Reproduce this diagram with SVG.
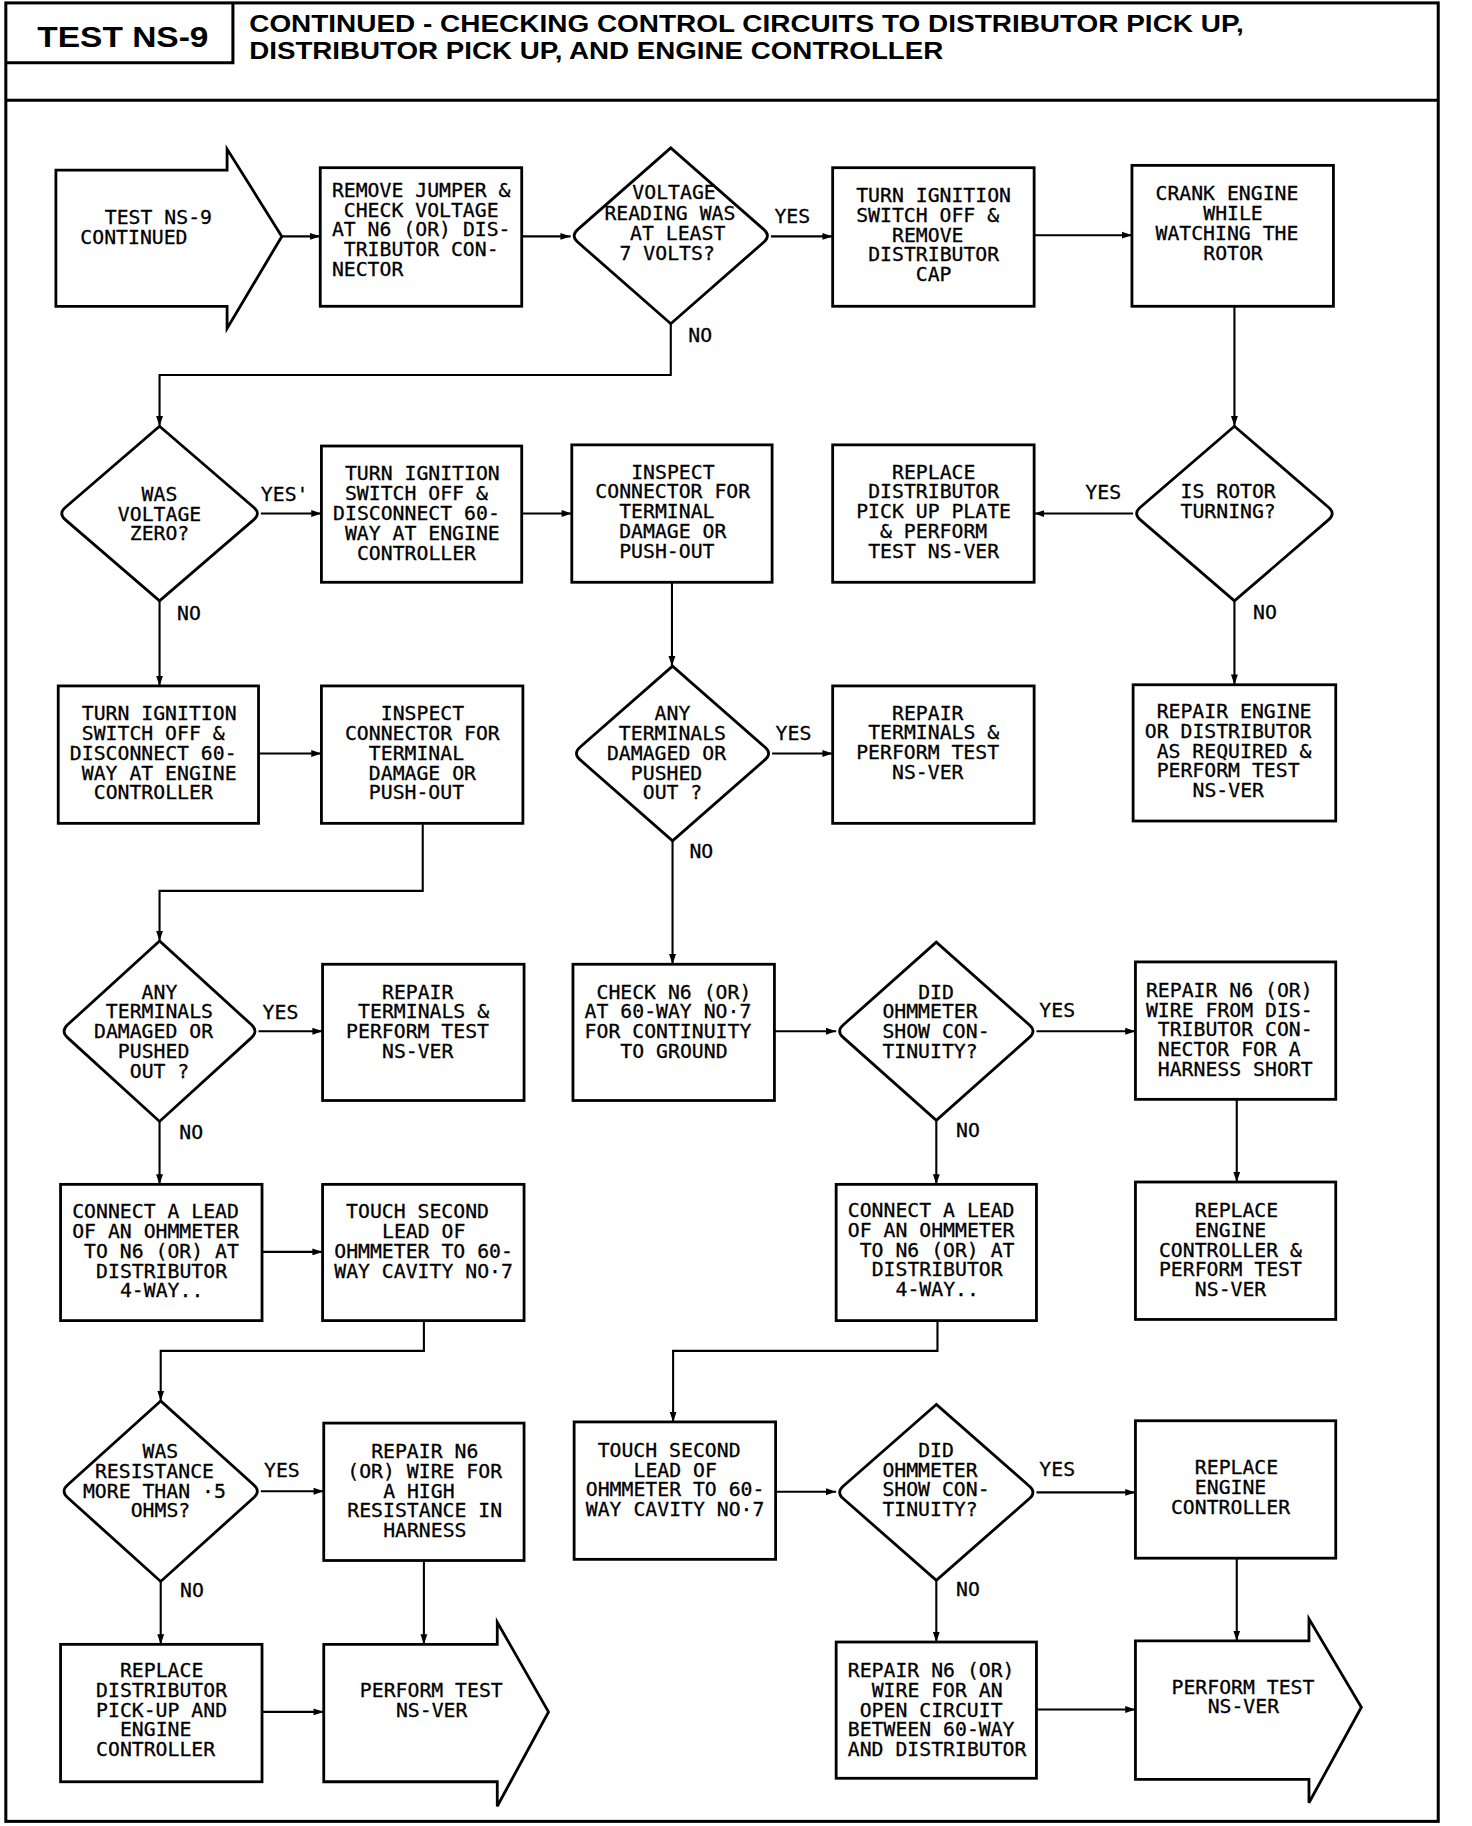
<svg xmlns="http://www.w3.org/2000/svg" width="1472" height="1826" viewBox="0 0 1472 1826">
<style>
.box{fill:#fff;stroke:#000;stroke-width:2.4}
.frm{fill:none;stroke:#000;stroke-width:2.6}
.conn{fill:none;stroke:#000;stroke-width:1.8}
.t{font-family:"DejaVu Sans Mono","Liberation Mono",monospace;font-size:17px;fill:#000;stroke:#000;stroke-width:0.25}
.hd{font-family:"Liberation Sans",Arial,sans-serif;font-weight:bold;fill:#000}
</style>
<defs>
<marker id="ah" viewBox="0 0 10 8" refX="10" refY="4" markerWidth="9" markerHeight="7" markerUnits="userSpaceOnUse" orient="auto"><path d="M0,0.6 L10,4 L0,7.4 Z" fill="#000"/></marker>
</defs>
<rect width="1472" height="1826" fill="#fff"/>
<g transform="scale(1.164557)">
<g id="frame">
<rect class="frm" x="5" y="2.5" width="1230" height="1561.5"/>
<line class="frm" x1="5" y1="86" x2="1235" y2="86"/>
<polyline class="frm" points="5,53.8 200,53.8 200,2.5"/>
<text class="hd" x="32" y="40" font-size="26" textLength="147" lengthAdjust="spacingAndGlyphs">TEST NS-9</text>
<text class="hd" x="214" y="27.5" font-size="21" textLength="854" lengthAdjust="spacingAndGlyphs">CONTINUED - CHECKING CONTROL CIRCUITS TO DISTRIBUTOR PICK UP,</text>
<text class="hd" x="214" y="51" font-size="21" textLength="596" lengthAdjust="spacingAndGlyphs">DISTRIBUTOR PICK UP, AND ENGINE CONTROLLER</text>
</g>
<g id="connectors">
<path class="conn" marker-end="url(#ah)" d="M242,203 H275"/>
<path class="conn" marker-end="url(#ah)" d="M448,203 H490"/>
<path class="conn" marker-end="url(#ah)" d="M662,203 H715"/>
<path class="conn" marker-end="url(#ah)" d="M888,202 H972"/>
<path class="conn" marker-end="url(#ah)" d="M576,278 V322 H137 V366"/>
<path class="conn" marker-end="url(#ah)" d="M1060,263 V366"/>
<path class="conn" marker-end="url(#ah)" d="M224,441 H276"/>
<path class="conn" marker-end="url(#ah)" d="M448,441 H491"/>
<path class="conn" marker-end="url(#ah)" d="M973,441 H888"/>
<path class="conn" marker-end="url(#ah)" d="M137,516 V589"/>
<path class="conn" marker-end="url(#ah)" d="M577,500 V572"/>
<path class="conn" marker-end="url(#ah)" d="M1060,516 V588"/>
<path class="conn" marker-end="url(#ah)" d="M222,647 H276"/>
<path class="conn" marker-end="url(#ah)" d="M663,647 H715"/>
<path class="conn" marker-end="url(#ah)" d="M363,707 V765 H137 V808"/>
<path class="conn" marker-end="url(#ah)" d="M577.5,722 V828"/>
<path class="conn" marker-end="url(#ah)" d="M222,885.5 H277"/>
<path class="conn" marker-end="url(#ah)" d="M665,885.5 H718"/>
<path class="conn" marker-end="url(#ah)" d="M890,885.5 H975"/>
<path class="conn" marker-end="url(#ah)" d="M137,963 V1017"/>
<path class="conn" marker-end="url(#ah)" d="M804,962 V1017"/>
<path class="conn" marker-end="url(#ah)" d="M1062,944 V1015"/>
<path class="conn" marker-end="url(#ah)" d="M225,1075 H277"/>
<path class="conn" marker-end="url(#ah)" d="M364,1134 V1160 H138 V1203"/>
<path class="conn" marker-end="url(#ah)" d="M805,1134 V1160 H578 V1221"/>
<path class="conn" marker-end="url(#ah)" d="M224,1280.5 H278"/>
<path class="conn" marker-end="url(#ah)" d="M666,1281 H718"/>
<path class="conn" marker-end="url(#ah)" d="M890,1281.5 H975"/>
<path class="conn" marker-end="url(#ah)" d="M138,1358 V1412"/>
<path class="conn" marker-end="url(#ah)" d="M364,1340 V1412"/>
<path class="conn" marker-end="url(#ah)" d="M804,1357 V1410"/>
<path class="conn" marker-end="url(#ah)" d="M1062,1338 V1409"/>
<path class="conn" marker-end="url(#ah)" d="M225,1470 H278"/>
<path class="conn" marker-end="url(#ah)" d="M890,1468 H975"/>
<text class="t" x="665" y="191.5">YES</text>
<text class="t" x="591" y="294">NO</text>
<text class="t" x="224" y="430">YES'</text>
<text class="t" x="152" y="532.6">NO</text>
<text class="t" x="932" y="428.2">YES</text>
<text class="t" x="1076" y="531.2">NO</text>
<text class="t" x="666" y="635.6">YES</text>
<text class="t" x="592" y="737">NO</text>
<text class="t" x="225.5" y="874.7">YES</text>
<text class="t" x="154" y="977.8">NO</text>
<text class="t" x="892.5" y="873.3">YES</text>
<text class="t" x="821" y="976">NO</text>
<text class="t" x="226.7" y="1268.3">YES</text>
<text class="t" x="154.6" y="1371.3">NO</text>
<text class="t" x="892.5" y="1267.4">YES</text>
<text class="t" x="821" y="1370.7">NO</text>
</g>
<g id="start">
<path class="box" d="M48,146 L195,146 L195,128 L242,203 L195,282 L195,263 L48,263 Z"/>
<text class="t"><tspan x="90" y="192.6">TEST NS-9</tspan><tspan x="69" y="209.8">CONTINUED</tspan></text>
</g>
<g id="remove-jumper">
<rect class="box" x="275" y="144" width="173" height="119"/>
<text class="t"><tspan x="285" y="169">REMOVE JUMPER &amp;</tspan><tspan x="295.2" y="186">CHECK VOLTAGE</tspan><tspan x="285" y="203">AT N6 (OR) DIS-</tspan><tspan x="295.2" y="220">TRIBUTOR CON-</tspan><tspan x="285" y="237">NECTOR</tspan></text>
</g>
<g id="d-voltage-7">
<path class="box" d="M576,127 L496,197.2 Q490,202.5 496,207.8 L576,278 L656,207.8 Q662,202.5 656,197.2 Z"/>
<text class="t"><tspan x="543" y="171">VOLTAGE</tspan><tspan x="519" y="188.5">READING WAS</tspan><tspan x="541" y="206">AT LEAST</tspan><tspan x="532" y="223.5">7 VOLTS?</tspan></text>
</g>
<g id="remove-cap">
<rect class="box" x="715" y="144" width="173" height="119"/>
<text class="t"><tspan x="735.2" y="173.4">TURN IGNITION</tspan><tspan x="735.2" y="190.4">SWITCH OFF &amp;</tspan><tspan x="766" y="207.4">REMOVE</tspan><tspan x="745.5" y="224.4">DISTRIBUTOR</tspan><tspan x="786.4" y="241.4">CAP</tspan></text>
</g>
<g id="crank-engine">
<rect class="box" x="972" y="142" width="173" height="121"/>
<text class="t"><tspan x="992.2" y="172">CRANK ENGINE</tspan><tspan x="1033.2" y="189">WHILE</tspan><tspan x="992.2" y="206">WATCHING THE</tspan><tspan x="1033.2" y="223">ROTOR</tspan></text>
</g>
<g id="d-voltage-zero">
<path class="box" d="M137,366 L56,435.8 Q50,441 56,446.2 L137,516 L218,446.2 Q224,441 218,435.8 Z"/>
<text class="t"><tspan x="121.6" y="430">WAS</tspan><tspan x="101.2" y="447">VOLTAGE</tspan><tspan x="111.4" y="464">ZERO?</tspan></text>
</g>
<g id="disconnect-60way-a">
<rect class="box" x="276" y="383" width="172" height="117"/>
<text class="t"><tspan x="296.2" y="412.5">TURN IGNITION</tspan><tspan x="296.2" y="429.5">SWITCH OFF &amp;</tspan><tspan x="286" y="446.5">DISCONNECT 60-</tspan><tspan x="296.2" y="463.5">WAY AT ENGINE</tspan><tspan x="306.5" y="480.5">CONTROLLER</tspan></text>
</g>
<g id="inspect-a">
<rect class="box" x="491" y="382" width="172" height="118"/>
<text class="t"><tspan x="542" y="411">INSPECT</tspan><tspan x="511.2" y="428">CONNECTOR FOR</tspan><tspan x="531.7" y="445">TERMINAL</tspan><tspan x="531.7" y="462">DAMAGE OR</tspan><tspan x="531.7" y="479">PUSH-OUT</tspan></text>
</g>
<g id="replace-pickup-plate">
<rect class="box" x="715" y="382" width="173" height="118"/>
<text class="t"><tspan x="766" y="411">REPLACE</tspan><tspan x="745.5" y="428">DISTRIBUTOR</tspan><tspan x="735.2" y="445">PICK UP PLATE</tspan><tspan x="755.7" y="462">&amp; PERFORM</tspan><tspan x="745.5" y="479">TEST NS-VER</tspan></text>
</g>
<g id="d-rotor">
<path class="box" d="M1060,366 L979,435.8 Q973,441 979,446.2 L1060,516 L1141,446.2 Q1147,441 1141,435.8 Z"/>
<text class="t"><tspan x="1013.7" y="428">IS ROTOR</tspan><tspan x="1013.7" y="445">TURNING?</tspan></text>
</g>
<g id="disconnect-60way-b">
<rect class="box" x="50" y="589" width="172" height="118"/>
<text class="t"><tspan x="70.2" y="618.5">TURN IGNITION</tspan><tspan x="70.2" y="635.5">SWITCH OFF &amp;</tspan><tspan x="60" y="652.5">DISCONNECT 60-</tspan><tspan x="70.2" y="669.5">WAY AT ENGINE</tspan><tspan x="80.5" y="686.5">CONTROLLER</tspan></text>
</g>
<g id="inspect-b">
<rect class="box" x="276" y="589" width="173" height="118"/>
<text class="t"><tspan x="327" y="618.5">INSPECT</tspan><tspan x="296.2" y="635.5">CONNECTOR FOR</tspan><tspan x="316.7" y="652.5">TERMINAL</tspan><tspan x="316.7" y="669.5">DAMAGE OR</tspan><tspan x="316.7" y="686.5">PUSH-OUT</tspan></text>
</g>
<g id="d-terminals-a">
<path class="box" d="M577.5,572 L498,641.7 Q492,647 498,652.3 L577.5,722 L657,652.3 Q663,647 657,641.7 Z"/>
<text class="t"><tspan x="562.1" y="618.5">ANY</tspan><tspan x="531.4" y="635.5">TERMINALS</tspan><tspan x="521.2" y="652.5">DAMAGED OR</tspan><tspan x="541.7" y="669.5">PUSHED</tspan><tspan x="551.9" y="686.5">OUT ?</tspan></text>
</g>
<g id="repair-terminals-a">
<rect class="box" x="715" y="589" width="173" height="118"/>
<text class="t"><tspan x="766" y="618">REPAIR</tspan><tspan x="745.5" y="635">TERMINALS &amp;</tspan><tspan x="735.2" y="652">PERFORM TEST</tspan><tspan x="766" y="669">NS-VER</tspan></text>
</g>
<g id="repair-engine-distributor">
<rect class="box" x="973" y="588" width="174" height="117"/>
<text class="t"><tspan x="993.2" y="616.5">REPAIR ENGINE</tspan><tspan x="983" y="633.5">OR DISTRIBUTOR</tspan><tspan x="993.2" y="650.5">AS REQUIRED &amp;</tspan><tspan x="993.2" y="667.5">PERFORM TEST</tspan><tspan x="1024" y="684.5">NS-VER</tspan></text>
</g>
<g id="d-terminals-b">
<path class="box" d="M137,808 L58,880 Q52,885.5 58,891 L137,963 L216,891 Q222,885.5 216,880 Z"/>
<text class="t"><tspan x="121.6" y="857.5">ANY</tspan><tspan x="90.9" y="874.5">TERMINALS</tspan><tspan x="80.7" y="891.5">DAMAGED OR</tspan><tspan x="101.2" y="908.5">PUSHED</tspan><tspan x="111.4" y="925.5">OUT ?</tspan></text>
</g>
<g id="repair-terminals-b">
<rect class="box" x="277" y="828" width="173" height="117"/>
<text class="t"><tspan x="328" y="857.5">REPAIR</tspan><tspan x="307.5" y="874.5">TERMINALS &amp;</tspan><tspan x="297.2" y="891.5">PERFORM TEST</tspan><tspan x="328" y="908.5">NS-VER</tspan></text>
</g>
<g id="check-n6">
<rect class="box" x="492" y="828" width="173" height="117"/>
<text class="t"><tspan x="512.2" y="857.5">CHECK N6 (OR)</tspan><tspan x="502" y="874.5">AT 60-WAY NO·7</tspan><tspan x="502" y="891.5">FOR CONTINUITY</tspan><tspan x="532.7" y="908.5">TO GROUND</tspan></text>
</g>
<g id="d-continuity-a">
<path class="box" d="M804,809 L724,880.2 Q718,885.5 724,890.8 L804,962 L884,890.8 Q890,885.5 884,880.2 Z"/>
<text class="t"><tspan x="788.4" y="857.5">DID</tspan><tspan x="757.7" y="874.5">OHMMETER</tspan><tspan x="757.7" y="891.5">SHOW CON-</tspan><tspan x="757.7" y="908.5">TINUITY?</tspan></text>
</g>
<g id="repair-harness-short">
<rect class="box" x="975" y="826" width="172" height="118"/>
<text class="t"><tspan x="984" y="856">REPAIR N6 (OR)</tspan><tspan x="984" y="873">WIRE FROM DIS-</tspan><tspan x="994.2" y="890">TRIBUTOR CON-</tspan><tspan x="994.2" y="907">NECTOR FOR A</tspan><tspan x="994.2" y="924">HARNESS SHORT</tspan></text>
</g>
<g id="connect-lead-a">
<rect class="box" x="52" y="1017" width="173" height="117"/>
<text class="t"><tspan x="62" y="1046">CONNECT A LEAD</tspan><tspan x="62" y="1063">OF AN OHMMETER</tspan><tspan x="72.2" y="1080">TO N6 (OR) AT</tspan><tspan x="82.5" y="1097">DISTRIBUTOR</tspan><tspan x="103" y="1114">4-WAY..</tspan></text>
</g>
<g id="touch-second-a">
<rect class="box" x="277" y="1017" width="173" height="117"/>
<text class="t"><tspan x="297.2" y="1046">TOUCH SECOND</tspan><tspan x="328" y="1063">LEAD OF</tspan><tspan x="287" y="1080">OHMMETER TO 60-</tspan><tspan x="287" y="1097">WAY CAVITY NO·7</tspan></text>
</g>
<g id="connect-lead-b">
<rect class="box" x="718" y="1017" width="172" height="117"/>
<text class="t"><tspan x="728" y="1045">CONNECT A LEAD</tspan><tspan x="728" y="1062">OF AN OHMMETER</tspan><tspan x="738.2" y="1079">TO N6 (OR) AT</tspan><tspan x="748.5" y="1096">DISTRIBUTOR</tspan><tspan x="769" y="1113">4-WAY..</tspan></text>
</g>
<g id="replace-controller-a">
<rect class="box" x="975" y="1015" width="172" height="118"/>
<text class="t"><tspan x="1026" y="1045">REPLACE</tspan><tspan x="1026" y="1062">ENGINE</tspan><tspan x="995.2" y="1079">CONTROLLER &amp;</tspan><tspan x="995.2" y="1096">PERFORM TEST</tspan><tspan x="1026" y="1113">NS-VER</tspan></text>
</g>
<g id="d-resistance">
<path class="box" d="M138,1203 L58,1275.1 Q52,1280.5 58,1285.9 L138,1358 L218,1285.9 Q224,1280.5 218,1275.1 Z"/>
<text class="t"><tspan x="122.4" y="1252">WAS</tspan><tspan x="81.5" y="1269">RESISTANCE</tspan><tspan x="71.2" y="1286">MORE THAN ·5</tspan><tspan x="112.2" y="1303">OHMS?</tspan></text>
</g>
<g id="repair-high-resistance">
<rect class="box" x="278" y="1222" width="172" height="118"/>
<text class="t"><tspan x="318.7" y="1252">REPAIR N6</tspan><tspan x="298.2" y="1269">(OR) WIRE FOR</tspan><tspan x="329" y="1286">A HIGH</tspan><tspan x="298.2" y="1303">RESISTANCE IN</tspan><tspan x="329" y="1320">HARNESS</tspan></text>
</g>
<g id="touch-second-b">
<rect class="box" x="493" y="1221" width="173" height="118"/>
<text class="t"><tspan x="513.2" y="1251">TOUCH SECOND</tspan><tspan x="544" y="1268">LEAD OF</tspan><tspan x="503" y="1285">OHMMETER TO 60-</tspan><tspan x="503" y="1302">WAY CAVITY NO·7</tspan></text>
</g>
<g id="d-continuity-b">
<path class="box" d="M804,1206 L724,1276.2 Q718,1281.5 724,1286.8 L804,1357 L884,1286.8 Q890,1281.5 884,1276.2 Z"/>
<text class="t"><tspan x="788.4" y="1251">DID</tspan><tspan x="757.7" y="1268">OHMMETER</tspan><tspan x="757.7" y="1285">SHOW CON-</tspan><tspan x="757.7" y="1302">TINUITY?</tspan></text>
</g>
<g id="replace-controller-b">
<rect class="box" x="975" y="1220" width="172" height="118"/>
<text class="t"><tspan x="1026" y="1266">REPLACE</tspan><tspan x="1026" y="1283">ENGINE</tspan><tspan x="1005.5" y="1300">CONTROLLER</tspan></text>
</g>
<g id="replace-pickup-controller">
<rect class="box" x="52" y="1412" width="173" height="118"/>
<text class="t"><tspan x="103" y="1440">REPLACE</tspan><tspan x="82.5" y="1457">DISTRIBUTOR</tspan><tspan x="82.5" y="1474">PICK-UP AND</tspan><tspan x="103" y="1491">ENGINE</tspan><tspan x="82.5" y="1508">CONTROLLER</tspan></text>
</g>
<g id="perform-ns-ver-a">
<path class="box" d="M278,1412 L427,1412 L427,1393 L471,1470 L427,1551 L427,1530 L278,1530 Z"/>
<text class="t"><tspan x="309" y="1457.2">PERFORM TEST</tspan><tspan x="340" y="1474">NS-VER</tspan></text>
</g>
<g id="repair-open-circuit">
<rect class="box" x="718" y="1410" width="172" height="117"/>
<text class="t"><tspan x="728" y="1440">REPAIR N6 (OR)</tspan><tspan x="748.5" y="1457">WIRE FOR AN</tspan><tspan x="738.2" y="1474">OPEN CIRCUIT</tspan><tspan x="728" y="1491">BETWEEN 60-WAY</tspan><tspan x="728" y="1508">AND DISTRIBUTOR</tspan></text>
</g>
<g id="perform-ns-ver-b">
<path class="box" d="M975,1409 L1124,1409 L1124,1390 L1169,1466 L1124,1548 L1124,1528 L975,1528 Z"/>
<text class="t"><tspan x="1006" y="1454.3">PERFORM TEST</tspan><tspan x="1037" y="1471">NS-VER</tspan></text>
</g>
</g>
</svg>
